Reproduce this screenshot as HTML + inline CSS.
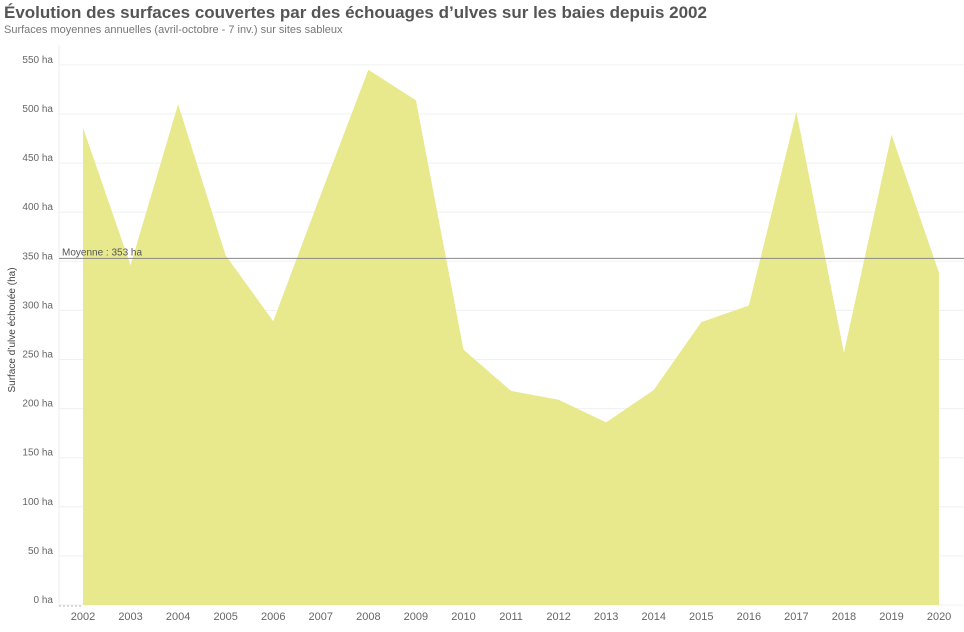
<!DOCTYPE html>
<html><head><meta charset="utf-8"><style>
body{margin:0;background:#fff;font-family:"Liberation Sans",sans-serif}
#t{position:absolute;left:4px;top:3px;font-size:17px;font-weight:bold;color:#555}
#s{position:absolute;left:4px;top:24px;font-size:11px;color:#777}
</style></head><body>
<div id="t">Évolution des surfaces couvertes par des échouages d’ulves sur les baies depuis 2002</div>
<div id="s">Surfaces moyennes annuelles (avril-octobre - 7 inv.) sur sites sableux</div>
<svg id="c" width="964" height="632" style="position:absolute;left:0;top:0"></svg>
<script>
const years=[2002,2003,2004,2005,2006,2007,2008,2009,2010,2011,2012,2013,2014,2015,2016,2017,2018,2019,2020];
const values=[486,346,510,356,289,418,545,514,260,218,209,186,219,288,305,502,257,479,338];
const ticks=[0,50,100,150,200,250,300,350,400,450,500,550];
const meanValue=353;
const svg=document.getElementById('c');const NS='http://www.w3.org/2000/svg';
const y=v=>605-v*0.982;
const x=i=>83+i*47.56;
function mk(t,a,p){const e=document.createElementNS(NS,t);for(const k in a)e.setAttribute(k,a[k]);(p||svg).appendChild(e);return e;}
ticks.forEach(t=>{
 const g=mk('line',{x1:59,x2:964,y1:y(t),y2:y(t),stroke:'#f0f0f0'});
 
 
 const l=mk('text',{x:53,y:y(t)-2,'text-anchor':'end','font-size':10,fill:'#666','font-family':'Liberation Sans'});
 l.textContent=t+' ha';
 
 
});
mk('line',{x1:59,x2:59,y1:45,y2:606,stroke:'#eee'});
let d='M'+x(0)+','+y(0);
values.forEach((v,i)=>{d+=' L'+x(i)+','+y(v);});
d+=' L'+x(values.length-1)+','+y(0)+' Z';
const a=mk('path',{d:d,fill:'#e8e98c'});


mk('line',{x1:59,x2:83,y1:606,y2:606,stroke:'#bbb','stroke-dasharray':'2,2'});
years.forEach((yr,i)=>{
 const t=mk('text',{x:x(i),y:620,'text-anchor':'middle','font-size':11,fill:'#666','font-family':'Liberation Sans'});
 t.textContent=yr;
 
 
});
const m=mk('line',{x1:59,x2:964,y1:y(meanValue),y2:y(meanValue),stroke:'#888','stroke-width':1});


const ml=mk('text',{x:62,y:y(meanValue)-3,'font-size':10,fill:'#555','font-family':'Liberation Sans'});
ml.textContent='Moyenne : '+meanValue+' ha';


const yt=mk('text',{x:0,y:0,transform:'translate(15,330) rotate(-90)','text-anchor':'middle','font-size':10,fill:'#444','font-family':'Liberation Sans'});
yt.textContent='Surface d’ulve échouée (ha)';


</script>
</body></html>
